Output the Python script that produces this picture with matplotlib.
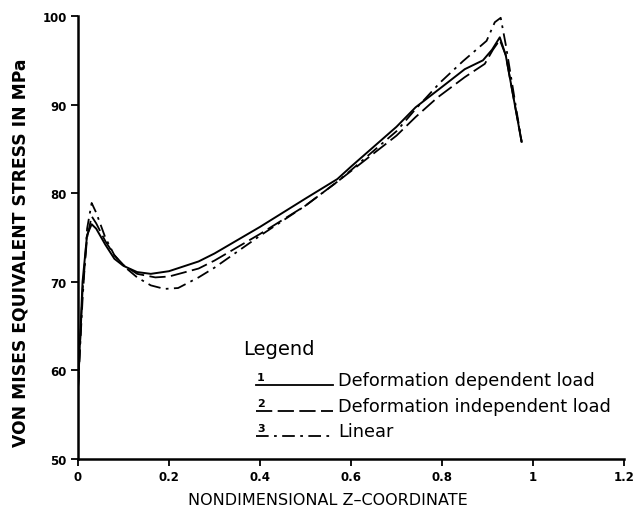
import numpy as np
import matplotlib
matplotlib.use("Agg")
import matplotlib.pyplot as plt

# curve 1: deformation dependent load
z1 = [0.0, 0.01, 0.02, 0.03, 0.04, 0.06, 0.08, 0.10, 0.13, 0.16, 0.20, 0.265,
      0.30, 0.40, 0.50, 0.57, 0.60, 0.70, 0.742, 0.80, 0.85, 0.89, 0.91, 0.927, 0.94, 0.975]
s1 = [58.0, 70.0, 75.3, 76.5, 76.0, 74.2, 72.6, 71.8, 71.1, 70.9, 71.2, 72.3,
      73.2, 76.2, 79.4, 81.6, 83.0, 87.5, 89.7, 92.0, 94.0, 95.0, 96.2, 97.6, 95.6, 85.8]

# curve 2: deformation independent load
z2 = [0.0, 0.01, 0.02, 0.03, 0.04, 0.06, 0.08, 0.10, 0.13, 0.17, 0.20, 0.265,
      0.30, 0.40, 0.50, 0.57, 0.60, 0.70, 0.742, 0.79, 0.85, 0.894, 0.912, 0.927, 0.94, 0.975]
s2 = [58.0, 69.0, 75.0, 77.4, 76.6, 74.6, 73.0, 71.9, 70.9, 70.5, 70.6, 71.5,
      72.4, 75.4, 78.6, 81.3, 82.5, 86.5, 88.6, 90.8, 93.1, 94.6, 96.2, 97.3, 95.6, 85.8]

# curve 3: linear
z3 = [0.0, 0.01, 0.02, 0.03, 0.04, 0.06, 0.08, 0.10, 0.13, 0.16, 0.19, 0.22, 0.265,
      0.30, 0.40, 0.50, 0.57, 0.60, 0.70, 0.742, 0.796, 0.846, 0.898, 0.916, 0.929, 0.94, 0.975]
s3 = [58.0, 68.0, 76.0, 78.9, 77.8, 75.0, 73.0, 71.8, 70.5, 69.6, 69.2, 69.3, 70.5,
      71.6, 75.2, 78.6, 81.3, 82.6, 87.0, 89.5, 92.5, 94.9, 97.2, 99.3, 99.8, 96.8, 85.8]

labels = ["Deformation dependent load", "Deformation independent load", "Linear"]
xticks = [0, 0.2, 0.4, 0.6, 0.8, 1.0, 1.2]
xticklabels = ["0", "0.2", "0.4", "0.6", "0.8", "1", "1.2"]
yticks = [50, 60, 70, 80, 90, 100]

dash2 = (9, 3)
dash3 = (7, 3, 1.5, 3)

X0, X1 = 78, 624   # pixel positions of x=0 and x=1.2
fig = plt.figure(figsize=(6.35, 5.1), dpi=100)
ax = fig.add_axes([X0 / 635, 0.098, (X1 - X0) / 635, 0.8686])

ax.plot(z1, s1, color="black", lw=1.4)
ax.plot(z2, s2, color="black", lw=1.3, dashes=dash2)
ax.plot(z3, s3, color="black", lw=1.3, dashes=dash3)

ax.set_xlim(0, 1.2)
ax.set_ylim(50, 100)
ax.set_xticks(xticks)
ax.set_xticklabels(xticklabels)
ax.set_yticks(yticks)
for sp in ["top", "right"]:
    ax.spines[sp].set_visible(False)
for sp in ["left", "bottom"]:
    ax.spines[sp].set_linewidth(1.8)
ax.tick_params(direction="out", length=5, width=1.3, labelsize=8.5, pad=3)
for t in ax.get_xticklabels() + ax.get_yticklabels():
    t.set_fontweight("bold")

ax.set_xlabel("NONDIMENSIONAL Z\u2013COORDINATE", fontsize=11.5)
ax.xaxis.set_label_coords((328 - X0) / (X1 - X0), -0.075)
ax.set_ylabel("VON MISES EQUIVALENT STRESS IN MPa", fontsize=12.3,
              fontweight="bold")
ax.yaxis.set_label_coords(-0.088, 0.468)

# hand drawn style legend
def px(x, y):
    return ((x - X0) / float(X1 - X0), (460 - y) / 443.0)

lx, ly = px(243, 349)
ax.text(lx, ly, "Legend", transform=ax.transAxes, fontsize=14, va="center", ha="left")
rows = [381, 407, 432]
styles = [dict(), dict(dashes=dash2), dict(dashes=dash3)]
for i, (row, lab, st) in enumerate(zip(rows, labels, styles)):
    nx, ny = px(257, row - 3)
    ax.text(nx, ny, str(i + 1), transform=ax.transAxes, fontsize=8,
            fontweight="bold", va="center", ha="left")
    x0, y0 = px(256, row + 5)
    x1, _ = px(333, row + 5)
    ax.plot([x0, x1], [y0, y0], transform=ax.transAxes, color="black",
            lw=1.3, clip_on=False, **st)
    tx, ty = px(338, row)
    ax.text(tx, ty, lab, transform=ax.transAxes, fontsize=12.8, va="center", ha="left")

fig.savefig("out.png", dpi=100)
